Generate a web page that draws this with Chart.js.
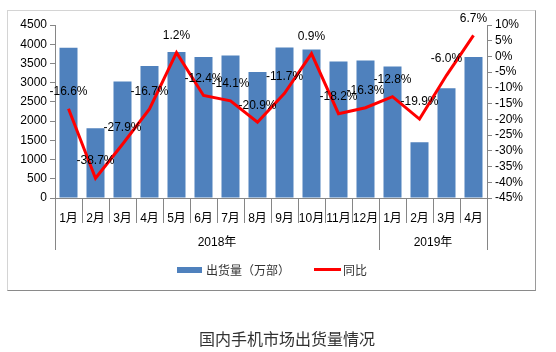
<!DOCTYPE html>
<html><head><meta charset="utf-8">
<script src="https://cdn.jsdelivr.net/npm/chart.js@4.4.0/dist/chart.umd.min.js"></script>
<style>
html,body{margin:0;padding:0;background:#fff;width:556px;height:352px;overflow:hidden;font-family:"Liberation Sans","Noto Sans CJK SC",sans-serif;}
#box{position:absolute;left:7px;top:10px;width:527px;height:279px;border-top:1px solid #d4d4d4;border-left:1px solid #d4d4d4;border-right:1px solid #9a9a9a;border-bottom:1px solid #8a8a8a;}
#wrap{position:absolute;left:0;top:0;width:556px;height:352px;}
.lg{position:absolute;font-size:12px;line-height:14px;color:#333;font-family:"Noto Sans CJK SC",sans-serif;}
#title{position:absolute;left:199px;top:327px;font-size:16px;line-height:22px;color:#333;font-family:"Noto Sans CJK SC",sans-serif;white-space:nowrap;}
</style></head><body>
<div id="box"></div>
<div id="wrap"><canvas id="c" width="556" height="352"></canvas></div>
<div style="position:absolute;left:177px;top:267px;width:25px;height:6px;background:#4F81BD"></div>
<div class="lg" style="left:206px;top:263px">出货量（万部）</div>
<div style="position:absolute;left:314px;top:268px;width:27px;height:3px;background:#FF0000"></div>
<div class="lg" style="left:343px;top:263px">同比</div>
<div id="title">国内手机市场出货量情况</div>
<script>
const categories = ["1月","2月","3月","4月","5月","6月","7月","8月","9月","10月","11月","12月","1月","2月","3月","4月"];
const shipments = [3905,1815,3030,3435,3795,3670,3705,3275,3915,3860,3550,3575,3420,1450,2855,3665];
const yoy = [-16.6,-38.7,-27.9,-16.7,1.2,-12.4,-14.1,-20.9,-11.7,0.9,-18.2,-16.3,-12.8,-19.9,-6.0,6.7];
const years = [{label:"2018年",from:0,to:12},{label:"2019年",from:12,to:16}];
const leftTicks = {min:0,max:4500,step:500};
const rightTicks = {min:-45,max:10,step:5};

const axisColor = '#868686';
const fontMain = "'Liberation Sans','Noto Sans CJK SC',sans-serif";

const extras = {
  id:'extras',
  afterDraw(chart){
    const ctx = chart.ctx, x = chart.scales.x, area = chart.chartArea;
    const n = categories.length;
    const step = (x.getPixelForValue(1) - x.getPixelForValue(0));
    const b = i => x.getPixelForValue(0) - step/2 + i*step;
    const major = new Set([0]);
    years.forEach(g=>{major.add(g.from);major.add(g.to);});
    ctx.save();
    ctx.strokeStyle = axisColor; ctx.lineWidth = 1;
    for(let i=0;i<=n;i++){
      const px = Math.round(b(i))+0.5;
      ctx.beginPath();
      ctx.moveTo(px, area.bottom);
      ctx.lineTo(px, major.has(i) ? area.bottom+52 : area.bottom+25);
      ctx.stroke();
    }
    ctx.fillStyle = '#000';
    ctx.font = "12px " + fontMain;
    ctx.textAlign = 'center'; ctx.textBaseline = 'middle';
    years.forEach(g=>{
      ctx.fillText(g.label, (b(g.from)+b(g.to))/2, area.bottom+45);
    });
    const meta = chart.getDatasetMeta(1);
    meta.data.forEach((pt,i)=>{
      ctx.fillText(yoy[i].toFixed(1)+'%', pt.x, pt.y-17);
    });
    ctx.restore();
  }
};

new Chart(document.getElementById('c'), {
  data:{
    labels:categories,
    datasets:[
      {type:'bar',label:'出货量（万部）',data:shipments,backgroundColor:'#4F81BD',yAxisID:'y',order:2,
       categoryPercentage:1,barPercentage:0.667},
      {type:'line',label:'同比',data:yoy,borderColor:'#FF0000',borderWidth:3,pointRadius:0,tension:0,yAxisID:'y1',order:1}
    ]
  },
  options:{
    responsive:false,animation:false,
    layout:{padding:{top:25,left:0,right:0,bottom:0}},
    plugins:{legend:{display:false},tooltip:{enabled:false}},
    scales:{
      x:{offset:true,grid:{display:false},border:{display:true,color:axisColor},
         ticks:{font:{size:12,family:fontMain},color:'#000',padding:5,maxRotation:0,autoSkip:false},
         afterFit(s){s.height=154;}},
      y:{position:'left',min:leftTicks.min,max:leftTicks.max,
         ticks:{stepSize:leftTicks.step,autoSkip:false,font:{size:12,family:fontMain},color:'#000',padding:3,callback:v=>String(v)},
         grid:{drawOnChartArea:false,tickLength:5,color:axisColor},border:{color:axisColor},
         afterFit(s){s.width=55;}},
      y1:{position:'right',min:rightTicks.min,max:rightTicks.max,
         ticks:{stepSize:rightTicks.step,autoSkip:false,font:{size:12,family:fontMain},color:'#000',padding:3,callback:v=>v+'%'},
         grid:{drawOnChartArea:false,tickLength:5,color:axisColor},border:{color:axisColor},
         afterFit(s){s.width=69;}}
    }
  },
  plugins:[extras]
});
</script>
</body></html>
